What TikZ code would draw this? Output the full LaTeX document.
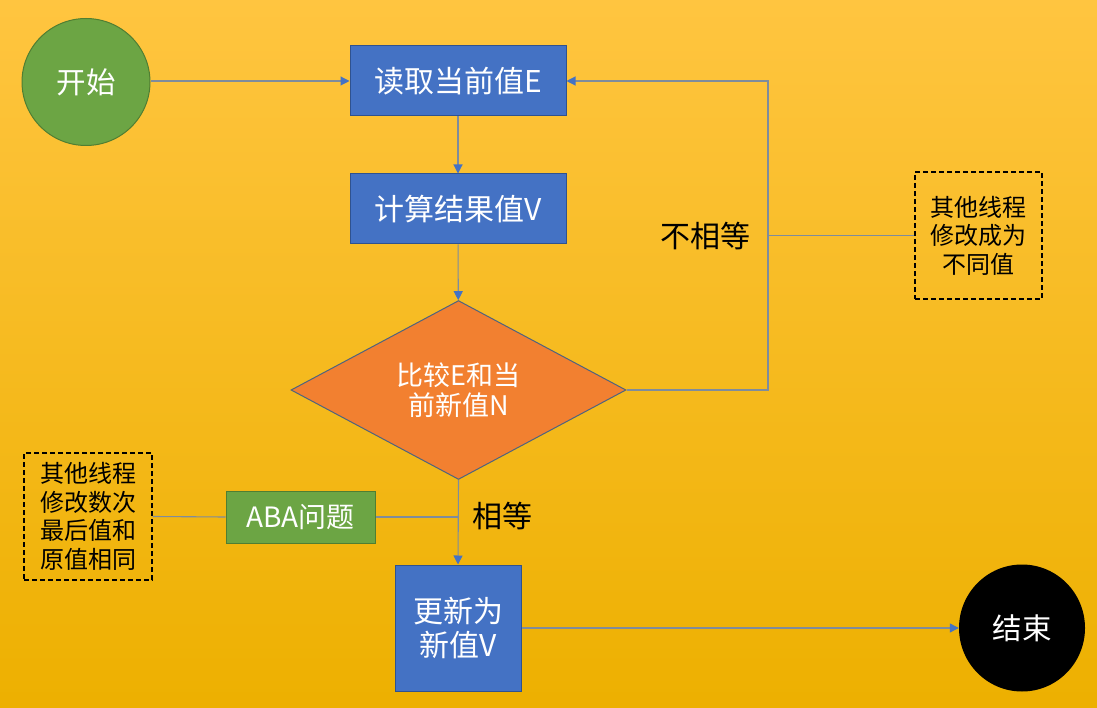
\documentclass[tikz,border=0pt]{standalone}
\usepackage{fontspec}
\setmainfont{Noto Sans CJK SC}
\usetikzlibrary{shapes.geometric,arrows.meta}

\definecolor{bgtop}{HTML}{FFC540}
\definecolor{bgmid}{HTML}{FFC000}
\definecolor{bgbot}{HTML}{EDB000}
\definecolor{flowblue}{HTML}{4472C4}
\definecolor{flowblueedge}{HTML}{2F528F}
\definecolor{flowgreen}{HTML}{6CA544}
\definecolor{flowgreenedge}{HTML}{507E32}
\definecolor{floworange}{HTML}{F28030}
\definecolor{diamondedge}{HTML}{4D6380}
\definecolor{linegray}{HTML}{7F8C9C}

\tikzset{
  procbox/.style={rectangle, fill=flowblue, draw=flowblueedge, line width=1pt,
    text=white, inner sep=0pt, align=center, font=\fontsize{30}{34}\selectfont},
  terminal/.style={ellipse, inner sep=0pt, text=white, font=\fontsize{29.5}{34}\selectfont},
  decision/.style={diamond, fill=floworange, draw=diamondedge, line width=1pt,
    text=white, inner sep=0pt, align=center, font=\fontsize{27}{30}\selectfont},
  notebox/.style={rectangle, draw=black, dash pattern=on 5pt off 3pt, line width=1.3pt,
    inner sep=0pt, align=center, font=\fontsize{24}{28.5}\selectfont},
  flowlabel/.style={font=\fontsize{30}{34}\selectfont, text=black},
  link/.style={draw=linegray, line width=1.1pt},
  arrowlink/.style={link, -{Triangle[length=9pt,width=9pt,color=flowblue]}},
}

\begin{document}
\begin{tikzpicture}[x=1pt,y=-1pt]
  % background
  \shade[top color=bgtop, middle color=bgmid, bottom color=bgbot] (0,0) rectangle (1097,708);
  \useasboundingbox (0,0) rectangle (1097,708);

  % terminals
  \node[terminal, fill=flowgreen, draw=flowgreenedge, line width=1pt,
        minimum width=128pt, minimum height=127pt] (start) at (86,82) {开始};
  \node[terminal, fill=black, minimum width=126pt, minimum height=127pt] (stop) at (1022,628) {结束};

  % process steps
  \node[procbox, minimum width=216pt, minimum height=70pt] (read) at (458,81) {读取当前值E};
  \node[procbox, minimum width=216pt, minimum height=70pt] (calc) at (458,209) {计算结果值V};
  \node[decision, minimum width=335pt, minimum height=174pt] (cmp) at (458.5,390) {比较E和当\\前新值N};
  \node[procbox, minimum width=126pt, minimum height=126pt] (upd) at (458,628) {更新为\\新值V};
  \node[procbox, fill=flowgreen, draw=flowgreenedge, font=\fontsize{28}{32}\selectfont,
        minimum width=149pt, minimum height=52pt] (aba) at (300.5,517) {ABA问题};

  % notes
  \node[notebox, minimum width=127pt, minimum height=127pt] (note2) at (978.5,235.5) {其他线程\\修改成为\\不同值};
  \node[notebox, minimum width=128pt, minimum height=127pt] (note1) at (88,516.5) {其他线程\\修改数次\\最后值和\\原值相同};

  % branch labels
  \node[flowlabel] (neq) at (705,236) {不相等};
  \node[flowlabel] (eq) at (502,516) {相等};

  \coordinate (loopx) at (768,0);

  % connectors
  \draw[arrowlink] (start.east |- read.west) -- (read.west);
  \draw[arrowlink] (read) -- (calc);
  \draw[arrowlink] (calc) -- (cmp);
  \draw[arrowlink] (cmp.east) -- (cmp.east -| loopx) |- (read.east);
  \draw[link] (note2.west) -- (note2.west -| loopx);
  \draw[arrowlink] (cmp.south) -- (upd.north);
  \draw[link] (aba.east) -- (aba.east -| cmp.south);
  \draw[link] (note1.east) -- (aba.west);
  \draw[arrowlink] (upd.east) -- (stop.west);
\end{tikzpicture}
\end{document}
